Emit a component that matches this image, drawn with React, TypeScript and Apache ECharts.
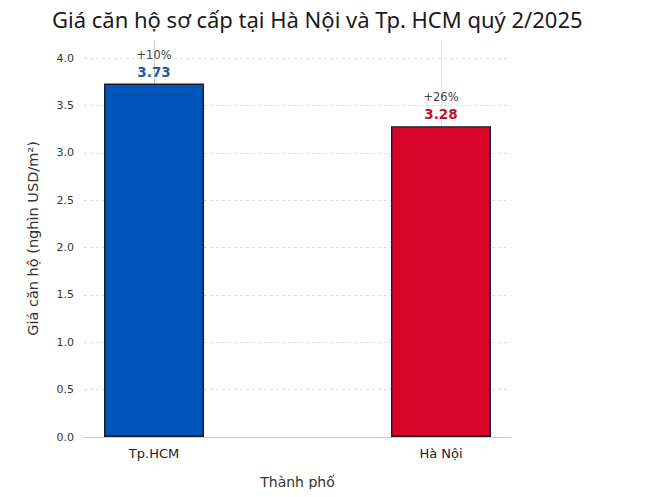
import React, { useEffect, useRef } from "react";
import * as echarts from "echarts";

const cities = ["Tp.HCM", "Hà Nội"];
const prices = [3.73, 3.28];
const growth = ["+10%", "+26%"];
const barColors = ["#0055b8", "#d90429"];
const valueColors = ["#1f5c9e", "#c0122f"];
const yTicks = [0, 0.5, 1, 1.5, 2, 2.5, 3, 3.5, 4];

export default function App() {
  const ref = useRef<HTMLDivElement>(null);
  useEffect(() => {
    if (!ref.current) return;
    const chart = echarts.init(ref.current, null, { renderer: "svg" });
    const font = "DejaVu Sans";
    chart.setOption({
      animation: false,
      backgroundColor: "#ffffff",
      title: {
        text: "Giá căn hộ sơ cấp tại Hà Nội và Tp. HCM quý 2/2025",
        left: 47,
        top: 3,
        textStyle: { fontFamily: "Noto Sans", fontSize: 22, fontWeight: "normal", color: "#1a1a1a" },
      },
      grid: { left: 84, right: 136, top: 40, bottom: 60 },
      xAxis: {
        type: "value",
        min: -0.244,
        max: 1.244,
        name: "Thành phố",
        nameLocation: "middle",
        nameGap: 38,
        nameTextStyle: { fontFamily: font, fontSize: 14, color: "#333" },
        axisLine: { show: true, lineStyle: { color: "#cccccc" } },
        axisTick: { show: false },
        splitLine: { show: false },
        axisLabel: {
          customValues: [0, 1],
          formatter: (v: number) => cities[Math.round(v)] ?? "",
          fontFamily: font,
          fontSize: 13,
          color: "#222",
          margin: 10,
        },
      },
      yAxis: {
        type: "value",
        min: 0,
        max: 4.19,
        interval: 0.5,
        name: "Giá căn hộ (nghìn USD/m²)",
        nameLocation: "middle",
        nameGap: 44,
        nameTextStyle: { fontFamily: font, fontSize: 14.5, color: "#333" },
        axisLine: { show: true, lineStyle: { color: "#cccccc" } },
        axisTick: { show: false },
        axisLabel: {
          showMaxLabel: false,
          formatter: (v: number) => (yTicks.includes(v) ? v.toFixed(1) : ""),
          fontFamily: font,
          fontSize: 11,
          color: "#333",
          margin: 10,
        },
        splitLine: {
          show: true,
          showMaxLine: false,
          showMinLine: false,
          lineStyle: { color: "#dddddd", type: [3, 3], width: 1 },
        },
      },
      series: [
        {
          type: "line",
          data: [],
          z: 0,
          silent: true,
          markLine: {
            silent: true,
            z: 0,
            symbol: "none",
            label: { show: false },
            lineStyle: { color: "#e2e2e2", type: "solid", width: 1 },
            data: cities.map((_, i) => ({ xAxis: i })),
          },
        },
        {
          type: "bar",
          z: 3,
          barWidth: 100,
          data: prices.map((p, i) => ({
            value: [i, p],
            itemStyle: { color: barColors[i], borderColor: "#1a1a2a", borderWidth: 1.4 },
            label: {
              show: true,
              position: "top",
              distance: 4,
              formatter: `{p|${growth[i]}}\n{v|${p.toFixed(2)}}`,
              rich: {
                p: { fontFamily: font, fontSize: 11.5, color: "#444", lineHeight: 18, align: "center" },
                v: { fontFamily: font, fontSize: 13.5, fontWeight: "bold", color: valueColors[i], lineHeight: 16, align: "center" },
              },
            },
          })),
        },
      ],
    });
    return () => chart.dispose();
  }, []);
  return <div ref={ref} style={{ width: 647, height: 497, margin: -8 }} />;
}
